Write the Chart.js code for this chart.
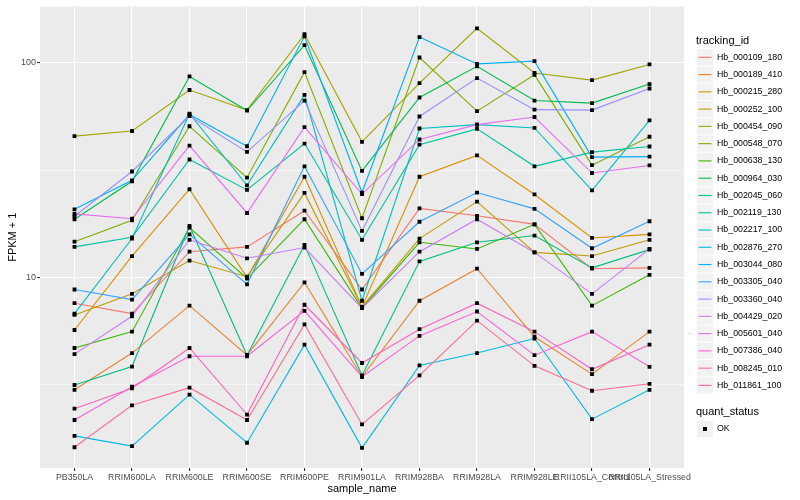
<!DOCTYPE html>
<html>
<head>
<meta charset="utf-8">
<script src="https://cdn.jsdelivr.net/npm/chart.js@4.4.1/dist/chart.umd.min.js"></script>
<style>
  body { margin: 0; background: #fff; }
</style>
</head>
<body>
<canvas id="fpkmChart" width="800" height="500"></canvas>
<script>
const samples = ["PB350LA", "RRIM600LA", "RRIM600LE", "RRIM600SE", "RRIM600PE", "RRIM901LA",
  "RRIM928BA", "RRIM928LA", "RRIM928LE", "RRII105LA_Control", "RRII105LA_Stressed"];

const trackingIds = ["Hb_000109_180", "Hb_000189_410", "Hb_000215_280", "Hb_000252_100", "Hb_000454_090",
  "Hb_000548_070", "Hb_000638_130", "Hb_000964_030", "Hb_002045_060", "Hb_002119_130",
  "Hb_002217_100", "Hb_002876_270", "Hb_003044_080", "Hb_003305_040", "Hb_003360_040",
  "Hb_004429_020", "Hb_005601_040", "Hb_007386_040", "Hb_008245_010", "Hb_011861_100"];

const hueColors = ["#F8766D", "#EA8331", "#D89000", "#C09B00", "#A3A500", "#7CAE00", "#39B600", "#00BB4E",
  "#00BF7D", "#00C1A3", "#00BFC4", "#00BAE0", "#00B0F6", "#35A2FF", "#9590FF", "#C77CFF",
  "#E76BF3", "#FA62DB", "#FF62BC", "#FF6C91"];

// FPKM + 1, one value per sample
const hb000109_180 = [7.6, 6.8, 13.2, 13.9, 20.5, 8.8, 21.0, 19.4, 17.7, 11.0, 11.1];
const hb000189_410 = [3.0, 4.45, 7.4, 4.35, 9.5, 3.45, 7.8, 11.0, 5.3, 3.55, 5.6];
const hb000215_280 = [5.7, 12.6, 25.8, 10.0, 29.5, 7.3, 29.5, 37.1, 24.4, 15.3, 15.9];
const hb000252_100 = [6.7, 8.4, 12.0, 10.1, 24.8, 7.3, 15.2, 22.6, 13.1, 12.6, 15.0];
const hb000454_090 = [45.6, 48.2, 74.8, 60.3, 136, 42.9, 80.5, 145, 89.8, 83.2, 98.4];
const hb000548_070 = [14.7, 18.5, 50.7, 29.2, 90.6, 18.9, 106, 59.6, 88, 33.4, 45.3];
const hb000638_130 = [4.7, 5.6, 17.1, 9.9, 18.7, 7.2, 14.6, 13.6, 17.7, 7.4, 10.3];
const hb000964_030 = [18.7, 28.1, 86.5, 60, 121, 31.4, 69, 96.4, 66.8, 65, 79.7];
const hb002045_060 = [3.16, 3.85, 17.4, 4.35, 14.2, 3.5, 11.9, 14.6, 15.7, 11.1, 13.5];
const hb002119_130 = [13.9, 15.4, 35.5, 25.6, 42.1, 15.0, 41.6, 49.3, 33, 38.4, 40.8];
const hb002217_100 = [6.8, 15.2, 58, 26.9, 71, 7.8, 49.5, 51.6, 49.8, 25.5, 54];
const hb002876_270 = [1.83, 1.64, 2.85, 1.7, 4.87, 1.61, 3.9, 4.45, 5.2, 2.19, 3.0];
const hb003044_080 = [20.8, 28.4, 57.5, 40.9, 133, 24.9, 132, 99, 102, 36.4, 36.6];
const hb003305_040 = [8.8, 7.9, 15.9, 9.3, 33, 10.4, 18.2, 24.9, 20.9, 13.7, 18.3];
const hb003360_040 = [19.3, 31.2, 56.6, 38.5, 66.8, 16.5, 56.3, 85, 60.6, 60.3, 76];
const hb004429_020 = [4.4, 6.6, 15.0, 12.3, 13.8, 7.2, 13.2, 18.7, 13.1, 8.4, 13.6];
const hb005601_040 = [19.8, 18.8, 41.2, 20, 50.2, 24.5, 44, 51.6, 56, 30.7, 33.3];
const hb007386_040 = [2.17, 3.1, 4.3, 4.3, 7.0, 3.45, 5.35, 6.95, 4.35, 5.6, 3.84];
const hb008245_010 = [2.45, 3.05, 4.7, 2.3, 7.47, 4.0, 5.75, 7.6, 5.6, 3.74, 4.87];
const hb011861_100 = [1.62, 2.54, 3.07, 2.17, 6.05, 2.07, 3.5, 6.3, 3.88, 2.97, 3.2];

const yMajorTicks = [10, 100];
const yMinorTicks = [3.1623, 31.623];
const quantStatus = ["OK"];

const seriesValues = [hb000109_180, hb000189_410, hb000215_280, hb000252_100, hb000454_090,
  hb000548_070, hb000638_130, hb000964_030, hb002045_060, hb002119_130,
  hb002217_100, hb002876_270, hb003044_080, hb003305_040, hb003360_040,
  hb004429_020, hb005601_040, hb007386_040, hb008245_010, hb011861_100];

const FONT = "'Liberation Sans', Arial, Helvetica, sans-serif";

const lineSets = seriesValues.map((vals, k) => ({
  label: trackingIds[k],
  data: vals.map((v, i) => ({ x: i, y: v })),
  borderColor: hueColors[k],
  backgroundColor: hueColors[k],
  borderWidth: 1.1,
  pointRadius: 0,
  tension: 0,
  fill: false,
  order: 100 - k
}));

const pointSet = {
  label: "quant_status",
  data: seriesValues.flatMap(vals => vals.map((v, i) => ({ x: i, y: v }))),
  showLine: false,
  pointStyle: "rect",
  pointRadius: 2.7,
  pointBorderWidth: 0,
  pointBackgroundColor: "#000",
  borderColor: "#000",
  order: -1
};

const panelBg = {
  id: "panelBg",
  beforeDraw(chart) {
    const { ctx, chartArea: a } = chart;
    ctx.save();
    ctx.fillStyle = "#EBEBEB";
    ctx.fillRect(a.left, a.top, a.right - a.left, a.bottom - a.top);
    ctx.restore();
  }
};

const ggLegend = {
  id: "ggLegend",
  afterDraw(chart) {
    const ctx = chart.ctx;
    const keyX = 697, keyW = 16, keyH = 16.3, step = 17.27, y0 = 57.3;
    ctx.save();
    ctx.textBaseline = "middle";
    ctx.textAlign = "left";
    ctx.fillStyle = "#000";
    ctx.font = "11px " + FONT;
    ctx.fillText("tracking_id", 696, 40.5);
    ctx.font = "8.8px " + FONT;
    trackingIds.forEach((id, k) => {
      const cy = y0 + k * step;
      ctx.fillStyle = "#F2F2F2";
      ctx.fillRect(keyX, cy - keyH / 2, keyW, keyH);
      ctx.strokeStyle = hueColors[k];
      ctx.lineWidth = 1.1;
      ctx.beginPath();
      ctx.moveTo(keyX + 1.5, cy);
      ctx.lineTo(keyX + keyW - 1.5, cy);
      ctx.stroke();
      ctx.fillStyle = "#000";
      ctx.fillText(id, 717, cy);
    });
    ctx.font = "11px " + FONT;
    ctx.fillText("quant_status", 696, 412);
    const qy = 429;
    ctx.fillStyle = "#F2F2F2";
    ctx.fillRect(keyX, qy - keyH / 2, keyW, keyH);
    ctx.fillStyle = "#000";
    ctx.fillRect(keyX + keyW / 2 - 2, qy - 2, 4, 4);
    ctx.font = "8.8px " + FONT;
    ctx.fillText(quantStatus[0], 717, qy);
    ctx.restore();
  }
};

new Chart(document.getElementById("fpkmChart"), {
  type: "line",
  data: { datasets: [pointSet, ...lineSets] },
  options: {
    responsive: false,
    animation: false,
    devicePixelRatio: 1,
    layout: { padding: { left: 0, right: 116, top: 5, bottom: 0 } },
    plugins: { legend: { display: false }, tooltip: { enabled: false } },
    scales: {
      x: {
        type: "linear",
        min: -0.6,
        max: 10.6,
        afterBuildTicks: s => { s.ticks = samples.map((_, i) => ({ value: i })); },
        afterFit: s => { s.height = 32; },
        border: { display: false },
        grid: { color: "#fff", lineWidth: 1.1, tickLength: 3, tickColor: "#333" },
        ticks: {
          autoSkip: false, maxRotation: 0, minRotation: 0, padding: 1,
          color: "#4D4D4D", font: { size: 8.8, family: FONT },
          callback: v => samples[v]
        },
        title: {
          display: true, text: "sample_name", color: "#000",
          font: { size: 11, family: FONT }, padding: { top: 0, bottom: 4 }
        }
      },
      y: {
        type: "logarithmic",
        min: 1.297,
        max: 183.4,
        afterBuildTicks: s => {
          s.ticks = [yMinorTicks[0], yMajorTicks[0], yMinorTicks[1], yMajorTicks[1]].map(v => ({ value: v }));
        },
        afterFit: s => { s.width = 40; },
        border: { display: false },
        grid: {
          color: "#fff",
          lineWidth: c => yMajorTicks.includes(c.tick && c.tick.value) ? 1.1 : 0.55,
          tickLength: 3,
          tickColor: c => yMajorTicks.includes(c.tick && c.tick.value) ? "#333" : "rgba(0,0,0,0)"
        },
        ticks: {
          autoSkip: false, padding: 1,
          color: "#4D4D4D", font: { size: 9, family: FONT },
          callback: v => yMajorTicks.includes(v) ? String(v) : ""
        },
        title: {
          display: true, text: "FPKM + 1", color: "#000",
          font: { size: 11, family: FONT }, padding: { top: 6, bottom: 0 }
        }
      }
    }
  },
  plugins: [panelBg, ggLegend]
});
</script>
</body>
</html>
